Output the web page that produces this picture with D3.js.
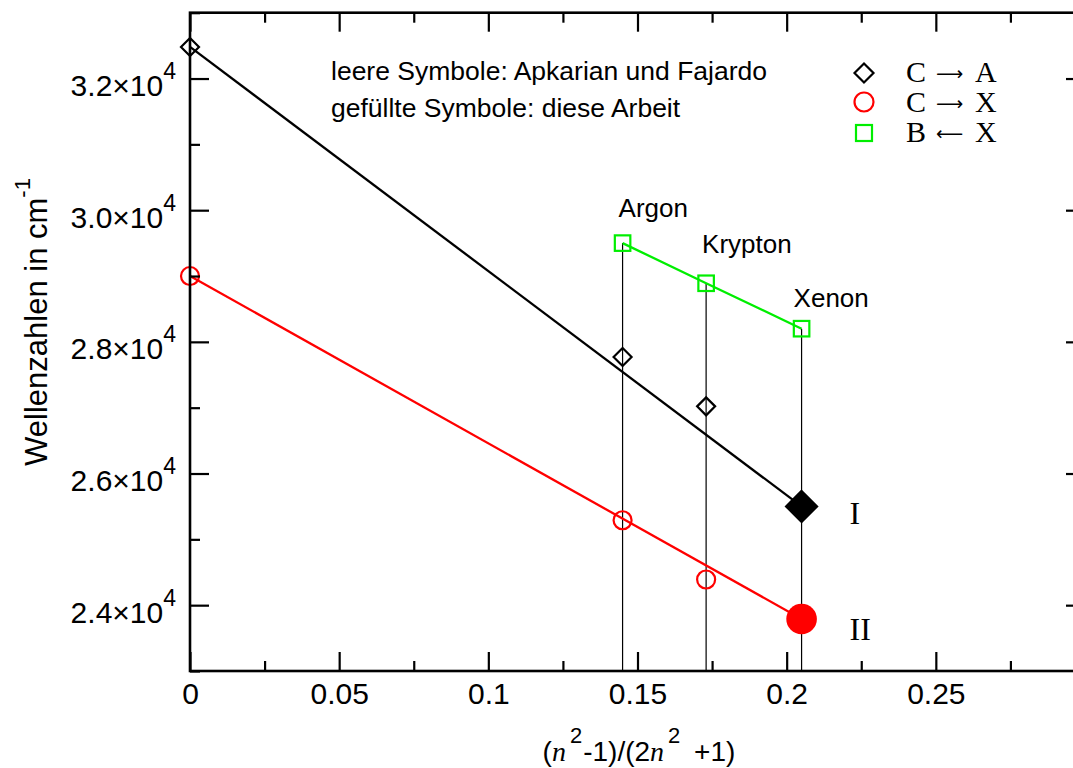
<!DOCTYPE html>
<html><head><meta charset="utf-8">
<script src="https://cdn.jsdelivr.net/npm/d3@7"></script>
<style>body{margin:0;background:#fff} svg{display:block}</style>
</head><body>
<svg id="c" width="1073" height="768"></svg>
<script>
// ---- data ----
const xMajorTicks = [0, 0.05, 0.1, 0.15, 0.2, 0.25, 0.3];
const xTickLabels = ["0", "0.05", "0.1", "0.15", "0.2", "0.25", ""];
const xMinorTicks = [0.025, 0.075, 0.125, 0.175, 0.225, 0.275];
const yMajorTicks = [24000, 26000, 28000, 30000, 32000];
const yTickLabels = ["2.4", "2.6", "2.8", "3.0", "3.2"];
const yMinorTicks = [23000, 25000, 27000, 29000, 31000, 33000];
const gases = ["Argon", "Krypton", "Xenon"];
const gasX = [0.145, 0.173, 0.205];
const litX = [0, 0.145, 0.173];          // open symbols (Apkarian und Fajardo)
const caLit = [32480, 27770, 27020];     // C -> A
const cxLit = [29000, 25290, 24390];     // C -> X
const bxLit = [29500, 28890, 28200];     // B <- X (Ar, Kr, Xe)
const thisX = 0.205;                     // filled symbols (diese Arbeit)
const caThis = 25500;
const cxThis = 23790;
const seriesFrom = ["C", "C", "B"];
const seriesArrow = ["\u27f6", "\u27f6", "\u27f5"];
const seriesTo = ["A", "X", "X"];
const seriesColors = ["#000000", "#ff0000", "#00ee00"];
const bandLabels = ["I", "II"];
const bandValues = [25240, 23470];
const noteLines = ["leere Symbole: Apkarian und Fajardo", "gef\u00fcllte Symbole: diese Arbeit"];

// ---- layout ----
const svg = d3.select("#c");
const x = d3.scaleLinear().domain([0, 0.3]).range([190, 1085]);
const y = d3.scaleLinear().domain([23000, 33000]).range([671, 12.7]);
const SANS = "'Liberation Sans', Arial, Helvetica, sans-serif";
const SERIF = "'Liberation Serif', 'Times New Roman', serif";

// vertical guide lines
svg.append("g").selectAll("line").data(gases).join("line")
  .attr("x1", (d, i) => x(gasX[i])).attr("x2", (d, i) => x(gasX[i]))
  .attr("y1", (d, i) => y(bxLit[i])).attr("y2", y(23000))
  .attr("stroke", "#000").attr("stroke-width", 1.2);

// lines
const line = d3.line().x(d => x(d[0])).y(d => y(d[1]));
svg.append("path").datum([[litX[0], caLit[0]], [thisX, caThis]]).attr("d", line)
  .attr("fill", "none").attr("stroke", seriesColors[0]).attr("stroke-width", 2.3);
svg.append("path").datum([[litX[0], cxLit[0]], [thisX, cxThis]]).attr("d", line)
  .attr("fill", "none").attr("stroke", seriesColors[1]).attr("stroke-width", 2.3);
svg.append("path").datum(gasX.map((g, i) => [g, bxLit[i]])).attr("d", line)
  .attr("fill", "none").attr("stroke", seriesColors[2]).attr("stroke-width", 2.3);

// marker helpers
function diamond(g, cx, cy, r, fill, color) {
  g.append("path").attr("d", `M${cx},${cy - r}L${cx + r},${cy}L${cx},${cy + r}L${cx - r},${cy}Z`)
    .attr("fill", fill).attr("stroke", color).attr("stroke-width", 2.2);
}
function circle(g, cx, cy, r, fill, color) {
  g.append("circle").attr("cx", cx).attr("cy", cy).attr("r", r)
    .attr("fill", fill).attr("stroke", color).attr("stroke-width", 2.2);
}
function square(g, cx, cy, s, fill, color) {
  g.append("rect").attr("x", cx - s / 2).attr("y", cy - s / 2).attr("width", s).attr("height", s)
    .attr("fill", fill).attr("stroke", color).attr("stroke-width", 2.2);
}
const gm = svg.append("g");
litX.forEach((xv, i) => diamond(gm, x(xv), y(caLit[i]), 9, "none", seriesColors[0]));
litX.forEach((xv, i) => circle(gm, x(xv), y(cxLit[i]), 9, "none", seriesColors[1]));
gasX.forEach((xv, i) => square(gm, x(xv), y(bxLit[i]), 15.5, "none", seriesColors[2]));
diamond(gm, x(thisX), y(caThis), 15.5, seriesColors[0], seriesColors[0]);
circle(gm, x(thisX), y(cxThis), 15.3, seriesColors[1], "none");

// frame
svg.append("rect").attr("x", x(0)).attr("y", y(33000))
  .attr("width", x(0.3) - x(0)).attr("height", y(23000) - y(33000))
  .attr("fill", "none").attr("stroke", "#000").attr("stroke-width", 2.6);

// axes
function styleAxis(g) { g.select(".domain").remove(); g.selectAll("line").attr("stroke-width", 2.2); }
svg.append("g").attr("transform", `translate(0,${y(23000)})`)
  .call(d3.axisBottom(x).tickValues(xMajorTicks).tickSize(-19).tickFormat((d, i) => xTickLabels[i]))
  .call(styleAxis)
  .call(g => g.selectAll("text").attr("y", 33).attr("dy", null)
    .attr("font-family", SANS).attr("font-size", 30).attr("fill", "#000"));
svg.append("g").attr("transform", `translate(0,${y(23000)})`)
  .call(d3.axisBottom(x).tickValues(xMinorTicks).tickSize(-10).tickFormat(""))
  .call(styleAxis);
svg.append("g").attr("transform", `translate(0,${y(33000)})`)
  .call(d3.axisTop(x).tickValues(xMajorTicks).tickSize(-19).tickFormat(""))
  .call(styleAxis);
svg.append("g").attr("transform", `translate(0,${y(33000)})`)
  .call(d3.axisTop(x).tickValues(xMinorTicks).tickSize(-10).tickFormat(""))
  .call(styleAxis);
svg.append("g").attr("transform", `translate(${x(0)},0)`)
  .call(d3.axisLeft(y).tickValues(yMajorTicks).tickSize(-19).tickPadding(14).tickFormat(""))
  .call(styleAxis)
  .call(g => g.selectAll(".tick").each(function (d, i) {
    const t = d3.select(this).select("text").attr("y", 17).attr("dy", null)
      .attr("font-family", SANS).attr("font-size", 30).attr("fill", "#000");
    t.append("tspan").text(yTickLabels[i] + "\u00d710");
    t.append("tspan").attr("dy", -17).attr("font-size", 23).text("4");
  }));
svg.append("g").attr("transform", `translate(${x(0)},0)`)
  .call(d3.axisLeft(y).tickValues(yMinorTicks).tickSize(-10).tickFormat(""))
  .call(styleAxis);
svg.append("g").attr("transform", `translate(${x(0.3)},0)`)
  .call(d3.axisRight(y).tickValues(yMajorTicks).tickSize(-19).tickFormat(""))
  .call(styleAxis);
svg.append("g").attr("transform", `translate(${x(0.3)},0)`)
  .call(d3.axisRight(y).tickValues(yMinorTicks).tickSize(-10).tickFormat(""))
  .call(styleAxis);

// axis titles
const xt = svg.append("text").attr("x", 639).attr("y", 761).attr("text-anchor", "middle")
  .attr("font-family", SANS).attr("font-size", 28).attr("fill", "#000");
xt.append("tspan").text("(");
xt.append("tspan").attr("font-family", SERIF).attr("font-style", "italic").text("n");
xt.append("tspan").attr("dy", -18).attr("font-size", 22).attr("dx", 4).text("2");
xt.append("tspan").attr("dy", 18).attr("dx", 1).text("-1)/(2");
xt.append("tspan").attr("font-family", SERIF).attr("font-style", "italic").text("n");
xt.append("tspan").attr("dy", -18).attr("font-size", 22).attr("dx", 4).text("2");
xt.append("tspan").attr("dy", 18).attr("dx", 6).text(" +1)");

const yt = svg.append("text").attr("transform", "rotate(-90)").attr("x", -322).attr("y", 47)
  .attr("text-anchor", "middle").attr("font-family", SANS).attr("font-size", 31).attr("fill", "#000");
yt.append("tspan").text("Wellenzahlen in cm");
yt.append("tspan").attr("dy", -17).attr("font-size", 22).text("-1");

// notes
svg.append("g").selectAll("text").data(noteLines).join("text")
  .attr("x", 331).attr("y", (d, i) => 80 + i * 37)
  .attr("font-family", SANS).attr("font-size", 26.5).attr("fill", "#000").text(d => d);

// legend
const lg = svg.append("g");
const legY = [73, 102, 133], legTextY = [82, 112, 142];
diamond(lg, 864, legY[0], 9.5, "none", seriesColors[0]);
circle(lg, 864, legY[1], 9.5, "none", seriesColors[1]);
square(lg, 864, legY[2], 16, "none", seriesColors[2]);
lg.append("g").selectAll("text").data(seriesFrom).join("text")
  .attr("x", 906).attr("y", (d, i) => legTextY[i])
  .attr("font-family", SERIF).attr("font-size", 30).attr("fill", "#000").text(d => d);
lg.append("g").selectAll("text").data(seriesArrow).join("text")
  .attr("x", 936).attr("y", (d, i) => legTextY[i] - 2)
  .attr("font-family", "'DejaVu Sans', sans-serif").attr("font-size", 19).attr("fill", "#000").text(d => d);
lg.append("g").selectAll("text").data(seriesTo).join("text")
  .attr("x", 975).attr("y", (d, i) => legTextY[i])
  .attr("font-family", SERIF).attr("font-size", 30).attr("fill", "#000").text(d => d);

// gas labels
const gasDx = [-4, -4, -8], gasDy = [-26, -30, -22];
svg.append("g").selectAll("text").data(gases).join("text")
  .attr("x", (d, i) => x(gasX[i]) + gasDx[i]).attr("y", (d, i) => y(bxLit[i]) + gasDy[i])
  .attr("font-family", SANS).attr("font-size", 26).attr("fill", "#000").text(d => d);

// band labels I / II
svg.append("g").selectAll("text").data(bandLabels).join("text")
  .attr("x", x(thisX) + 48).attr("y", (d, i) => y(bandValues[i]))
  .attr("font-family", SERIF).attr("font-size", 32).attr("fill", "#000").text(d => d);
</script>
</body></html>
